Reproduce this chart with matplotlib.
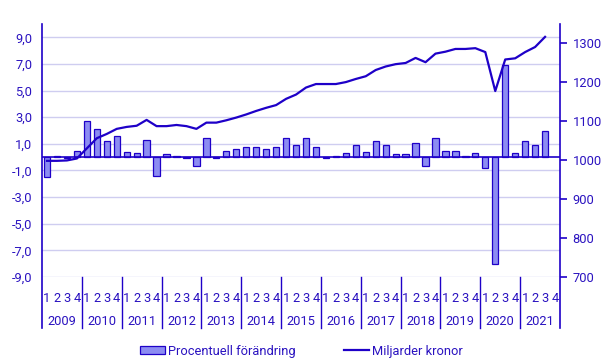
import numpy as np
import matplotlib.pyplot as plt
from matplotlib.patches import Patch
from matplotlib.lines import Line2D
import matplotlib.transforms as mtransforms

plt.rcParams['font.family'] = ['Roboto', 'DejaVu Sans']

years = [str(y) for y in range(2009, 2022)]
quarters = ['1', '2', '3', '4'] * len(years)

# procentuell förändring per kvartal (2021 kv4 saknas)
pct = [-1.5, 0.1, -0.1, 0.5,
       2.7, 2.1, 1.2, 1.6,
       0.35, 0.28, 1.27, -1.45,
       0.22, 0.08, -0.08, -0.67,
       1.42, -0.1, 0.5, 0.65,
       0.8, 0.8, 0.65, 0.8,
       1.42, 0.95, 1.42, 0.8,
       -0.1, 0.08, 0.28, 0.88,
       0.35, 1.25, 0.95, 0.2,
       0.2, 1.1, -0.67, 1.47,
       0.5, 0.5, 0.08, 0.28,
       -0.85, -8.0, 6.9, 0.28,
       1.2, 0.95, 2.0]

# miljarder kronor
level = [998, 998, 999, 1004,
         1030, 1056, 1067, 1080,
         1085, 1088, 1103, 1087,
         1087, 1090, 1087, 1080,
         1096, 1096, 1102, 1109,
         1117, 1126, 1134, 1141,
         1157, 1168, 1186, 1195,
         1195, 1195, 1200, 1208,
         1215, 1231, 1240, 1246,
         1249, 1262, 1251, 1273,
         1278, 1285, 1285, 1287,
         1277, 1177, 1258, 1261,
         1277, 1290, 1316]

dark = '#1e00c8'
bar_fill = '#8c8cf2'
grid_c = '#cfcdf0'
text_c = '#2a12c0'
fs = 9.3

fig = plt.figure(figsize=(6.03, 3.61), dpi=100)
ax = fig.add_axes([0.0697, 0.2327, 0.859, 0.7008])
ax2 = ax.twinx()

x = np.arange(len(pct))
ax.bar(x, pct, width=0.63, color=bar_fill, edgecolor=dark, linewidth=0.9, zorder=3)
ax.axhline(0, color=dark, lw=1.2, zorder=4)
ax2.plot(np.arange(len(level)), level, color=dark, lw=1.6, zorder=5)

ax.set_xlim(-0.5, len(quarters) - 0.5)
ax.set_ylim(-9, 10)
ax2.set_ylim(700, 1349)

yt = np.arange(-9, 10, 2)
ax.set_yticks(yt)
ax.set_yticklabels([f'{v:.1f}'.replace('.', ',') for v in yt])
for v in yt:
    ax.axhline(v, color=grid_c, lw=1, zorder=1)
ax.tick_params(axis='y', length=0, pad=7, labelsize=fs, labelcolor=text_c)

ax2.set_yticks([700, 800, 900, 1000, 1100, 1200, 1300])
ax2.tick_params(axis='y', length=5, width=1.2, color=dark, pad=4, labelsize=fs, labelcolor=text_c)

ax.set_xticks(np.arange(len(quarters)))
ax.set_xticklabels(quarters)
ax.tick_params(axis='x', length=0, pad=11, labelsize=fs, labelcolor=text_c)

for a in (ax, ax2):
    for s in a.spines.values():
        s.set_visible(False)

trans = mtransforms.blended_transform_factory(ax.transData, ax.transAxes)
for k in range(len(years) + 1):
    xb = -0.5 + 4 * k
    ax.plot([xb, xb], [1 if k in (0, len(years)) else 0, -0.2], color=dark,
            lw=1.2 if k in (0, len(years)) else 1, transform=trans, clip_on=False, zorder=6)
for k, y in enumerate(years):
    ax.text(1.5 + 4 * k, -0.174, y, transform=trans, ha='center', va='center',
            fontsize=fs, color=text_c)

handles = [Patch(facecolor=bar_fill, edgecolor=dark, linewidth=0.9),
           Line2D([0], [0], color=dark, lw=1.6)]
fig.legend(handles, ['Procentuell förändring', 'Miljarder kronor'], loc='center',
           bbox_to_anchor=(0.5, 0.027), ncol=2, frameon=False, fontsize=fs,
           handlelength=1.95, handleheight=0.6, handletextpad=0.25, columnspacing=3.7,
           labelcolor=text_c)

fig.savefig('out.png', dpi=100)
